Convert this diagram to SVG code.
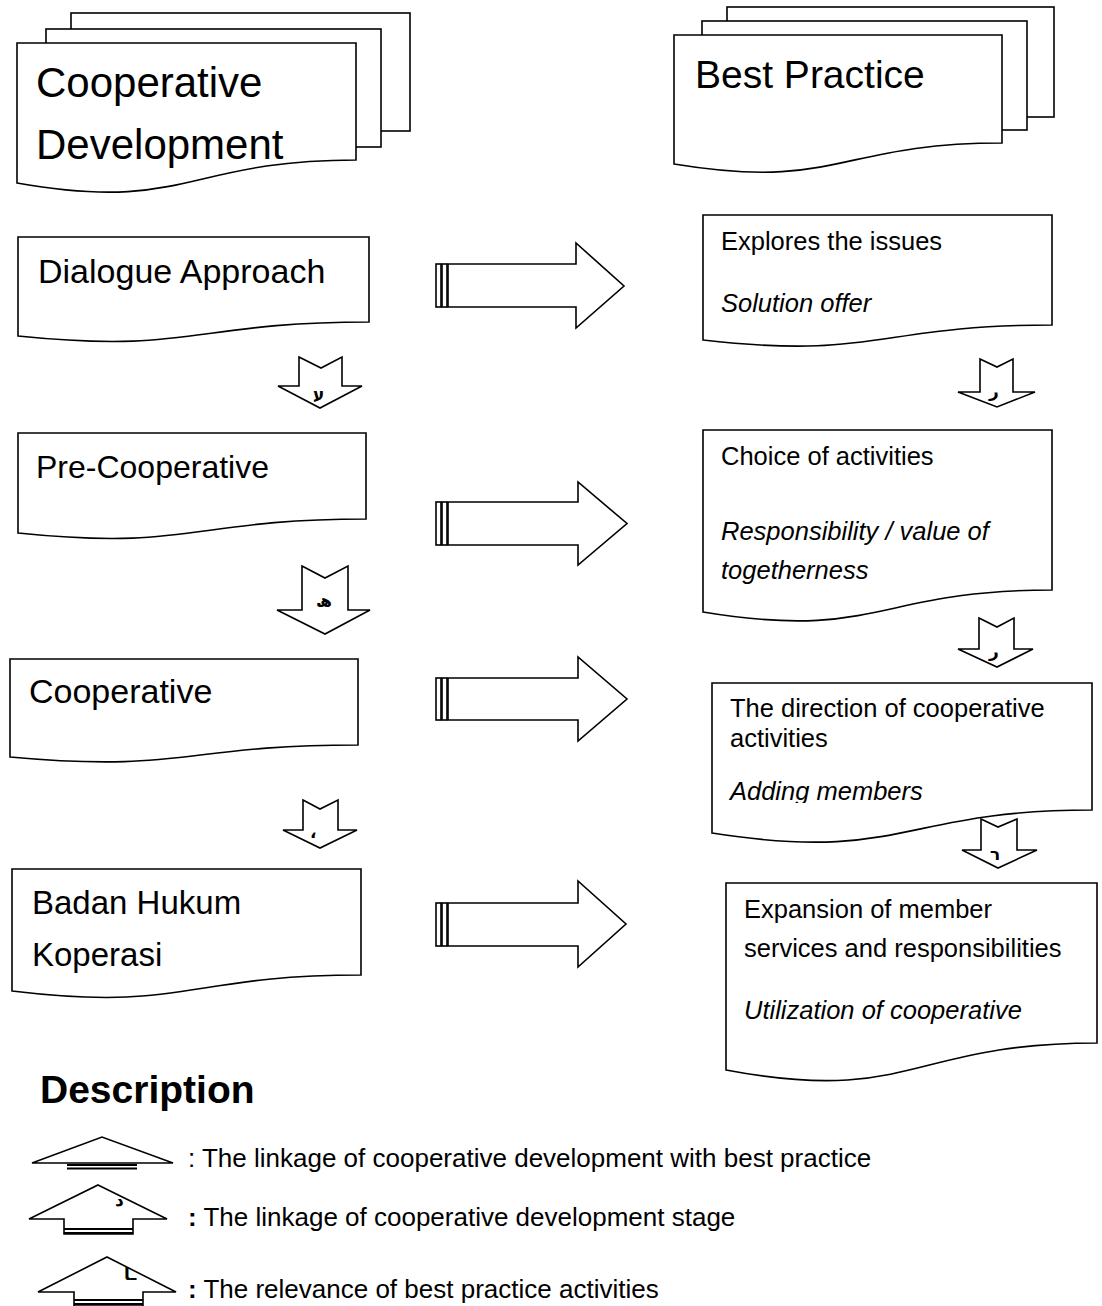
<svg xmlns="http://www.w3.org/2000/svg" width="1102" height="1306" viewBox="0 0 1102 1306">
<style>
.shp{fill:#fff;stroke:#000;stroke-width:1.6;stroke-linejoin:miter}
.t{font-family:"Liberation Sans",Arial,sans-serif;fill:#000}
.i{font-style:italic}
.g{font-family:"DejaVu Sans",sans-serif;font-weight:bold;font-size:17px;fill:#000}
.bar{stroke:#000;stroke-width:2.2}
</style>
<defs>
<clipPath id="clipAdd"><rect x="712" y="760" width="380" height="43"/></clipPath>
</defs>
<rect width="1102" height="1306" fill="#fff"/>

<g id="node-coop-dev">
<rect class="shp" x="71" y="13" width="339" height="118"/>
<rect class="shp" x="46" y="29" width="335" height="118"/>
<path class="shp" d="M17,43 H356 V160 C186,160 186,213 17,183 Z"/>
<text class="t" x="36" y="97" font-size="42">Cooperative</text>
<text class="t" x="36" y="159" font-size="42">Development</text>
</g>

<g id="node-best-practice">
<rect class="shp" x="727" y="7" width="327" height="110"/>
<rect class="shp" x="702" y="21" width="325" height="109"/>
<path class="shp" d="M674,35 H1002 V143 C838,143 838,191 674,164 Z"/>
<text class="t" x="695" y="88" font-size="39">Best Practice</text>
</g>

<g id="node-dialogue">
<path class="shp" d="M18,237 H369 V322 C193,322 193,354 18,336 Z"/>
<text class="t" x="38" y="283" font-size="34">Dialogue Approach</text>
</g>

<g id="node-pre-coop">
<path class="shp" d="M18,433 H366 V519 C192,519 192,551 18,533 Z"/>
<text class="t" x="36" y="478" font-size="32">Pre-Cooperative</text>
</g>

<g id="node-coop">
<path class="shp" d="M10,659 H358 V745 C184,745 184,773 10,757 Z"/>
<text class="t" x="29" y="703" font-size="34">Cooperative</text>
</g>

<g id="node-badan">
<path class="shp" d="M12,869 H361 V975 C186,975 186,1012 12,991 Z"/>
<text class="t" x="32" y="914" font-size="33">Badan Hukum</text>
<text class="t" x="32" y="966" font-size="33">Koperasi</text>
</g>

<g id="node-explores">
<path class="shp" d="M703,215 H1052 V325 C877,325 877,360 703,340 Z"/>
<text class="t" x="721" y="250" font-size="25.5">Explores the issues</text>
<text class="t i" x="721" y="312" font-size="25.5">Solution offer</text>
</g>

<g id="node-choice">
<path class="shp" d="M703,430 H1052 V590 C877,590 877,641 703,612 Z"/>
<text class="t" x="721" y="465" font-size="25.5">Choice of activities</text>
<text class="t i" x="721" y="540" font-size="25.5">Responsibility / value of</text>
<text class="t i" x="721" y="579" font-size="25.5">togetherness</text>
</g>

<g id="node-direction">
<path class="shp" d="M712,683 H1092 V810 C902,810 902,863 712,833 Z"/>
<text class="t" x="730" y="717" font-size="25.5">The direction of cooperative</text>
<text class="t" x="730" y="747" font-size="25.5">activities</text>
<text class="t i" x="730" y="800" font-size="25.5" clip-path="url(#clipAdd)">Adding members</text>
</g>

<g id="node-expansion">
<path class="shp" d="M726,883 H1097 V1043 C911,1043 911,1105 726,1070 Z"/>
<text class="t" x="744" y="918" font-size="25.5">Expansion of member</text>
<text class="t" x="744" y="957" font-size="25.5">services and responsibilities</text>
<text class="t i" x="744" y="1019" font-size="25.5">Utilization of cooperative</text>
</g>

<g id="connectors">
<g id="arrow-r1">
<rect class="shp" x="436" y="264" width="5" height="43"/>
<rect class="shp" x="442" y="264" width="5" height="43"/>
<polygon class="shp" points="448,264 576,264 576,243 624,286 576,328 576,307 448,307"/>
</g>
<g id="arrow-r2">
<rect class="shp" x="436" y="502" width="5" height="43"/>
<rect class="shp" x="442" y="502" width="5" height="43"/>
<polygon class="shp" points="448,502 578,502 578,482 627,523.5 578,565 578,545 448,545"/>
</g>
<g id="arrow-r3">
<rect class="shp" x="436" y="678" width="5" height="42"/>
<rect class="shp" x="442" y="678" width="5" height="42"/>
<polygon class="shp" points="448,678 578,678 578,657 627,699 578,741 578,720 448,720"/>
</g>
<g id="arrow-r4">
<rect class="shp" x="436" y="903" width="5" height="43"/>
<rect class="shp" x="442" y="903" width="5" height="43"/>
<polygon class="shp" points="448,903 578,903 578,881 626,924 578,967 578,946 448,946"/>
</g>

<g id="arrow-d1">
<polygon class="shp" points="299,357 321,368 342,357 342,386 362,386 320,408 278,386 299,386"/>
<text class="g" x="313" y="400">ע</text>
</g>
<g id="arrow-d2">
<polygon class="shp" points="302,566 325,578 348,566 348,610 370,610 325,634 277,610 302,610"/>
<text class="g" x="316" y="606" font-size="19">ھ</text>
</g>
<g id="arrow-d3">
<polygon class="shp" points="303,800 320,809 338,800 338,830 357,830 320,848 283,830 303,830"/>
<text class="g" x="310" y="838" font-size="20">،</text>
</g>

<g id="arrow-d4">
<polygon class="shp" points="980,359 997,367 1013,359 1013,392 1035,392 997,407 958,392 980,392"/>
<text class="g" x="989" y="397">ر</text>
</g>
<g id="arrow-d5">
<polygon class="shp" points="979,618 997,627 1014,618 1014,649 1033,649 997,667 958,649 979,649"/>
<text class="g" x="989" y="657">ر</text>
</g>
<g id="arrow-d6">
<polygon class="shp" points="981,819 998,827 1017,819 1017,850 1037,850 998,868 962,850 981,850"/>
<text class="g" x="990" y="860">ר</text>
</g>
</g>

<g id="legend">
<text class="t" x="40" y="1103" font-size="39" font-weight="bold">Description</text>

<g id="legend-1">
<polygon class="shp" points="32,1163 102,1137 173,1163"/>
<line class="bar" x1="67" y1="1165" x2="137" y2="1165"/>
<line class="bar" x1="67" y1="1168.5" x2="137" y2="1168.5"/>
<text class="t" x="188" y="1167" font-size="26">: The linkage of cooperative development with best practice</text>
</g>

<g id="legend-2">
<polygon class="shp" points="98,1185 167,1219 133,1219 133,1234 64,1234 64,1219 29,1219"/>
<line class="bar" x1="64" y1="1229" x2="133" y2="1229"/>
<line class="bar" x1="64" y1="1233" x2="133" y2="1233"/>
<text class="g" x="115" y="1206" font-size="12">ﺩ</text>
<text class="t" x="188" y="1226" font-size="26"><tspan font-weight="bold">:</tspan> The linkage of cooperative development stage</text>
</g>

<g id="legend-3">
<polygon class="shp" points="107,1257 176,1292 143,1292 143,1306 74,1306 74,1292 38,1292"/>
<line class="bar" x1="74" y1="1300" x2="143" y2="1300"/>
<line class="bar" x1="74" y1="1304" x2="143" y2="1304"/>
<text class="g" x="124" y="1280" font-size="12">ـا</text>
<text class="t" x="188" y="1298" font-size="26"><tspan font-weight="bold">:</tspan> The relevance of best practice activities</text>
</g>
</g>
</svg>
